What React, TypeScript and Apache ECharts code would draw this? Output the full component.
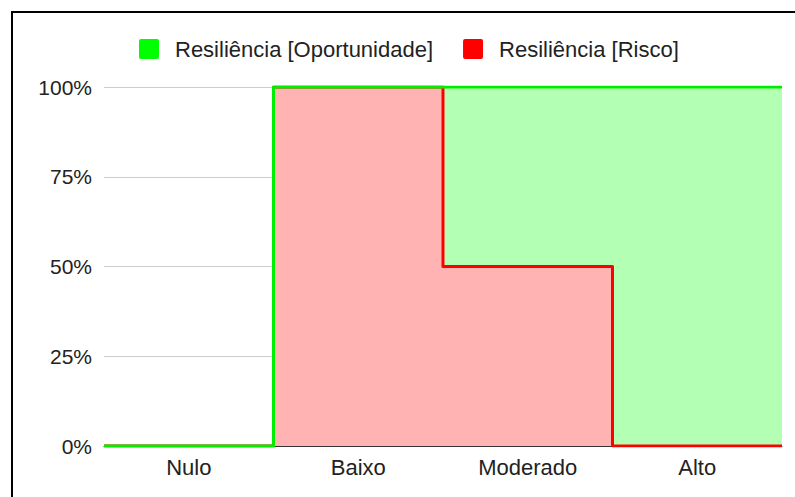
import React, { useEffect, useRef } from "react";
import * as echarts from "echarts";

const categories = ["Nulo", "Baixo", "Moderado", "Alto"];
const oportunidade = [0, 100, 100, 100];
const risco = [0, 100, 50, 0];
const seriesNames = ["Resiliência [Oportunidade]", "Resiliência [Risco]"];

const toStep = (vals: number[]) => [
  ...vals.map((v, i) => [i, v]),
  [vals.length, vals[vals.length - 1]],
];

export default function App() {
  const ref = useRef<HTMLDivElement>(null);
  useEffect(() => {
    if (!ref.current) return;
    const chart = echarts.init(ref.current, undefined, { renderer: "svg" });
    const font = "Liberation Sans, Arial, sans-serif";
    chart.setOption({
      animation: false,
      textStyle: { fontFamily: font },
      graphic: [
        {
          type: "rect",
          shape: { x: 12, y: 12, width: 820, height: 520 },
          style: { fill: "none", stroke: "#000", lineWidth: 2 },
          silent: true,
          z: 100,
        },
      ],
      legend: {
        data: seriesNames,
        left: 134,
        top: 33,
        itemWidth: 20,
        itemHeight: 20,
        itemGap: 30,
        icon: "path://M2,0 L18,0 Q20,0 20,2 L20,18 Q20,20 18,20 L2,20 Q0,20 0,18 L0,2 Q0,0 2,0 Z",
        textStyle: { fontSize: 22, color: "#222", fontFamily: font, padding: [0, 0, 0, 11] },
      },
      grid: { left: 104, right: 13, top: 87, bottom: 51, containLabel: false },
      xAxis: [
        { type: "value", min: 0, max: categories.length, show: false },
        {
          type: "category",
          data: categories,
          position: "bottom",
          boundaryGap: true,
          axisTick: { show: false },
          axisLine: { show: true, lineStyle: { color: "#333", width: 1 } },
          axisLabel: { fontSize: 22, color: "#222", margin: 10, fontFamily: font },
        },
      ],
      yAxis: {
        type: "value",
        min: 0,
        max: 100,
        interval: 25,
        axisLine: { show: false },
        axisTick: { show: false },
        splitLine: { lineStyle: { color: "#ccc", width: 1 } },
        axisLabel: { formatter: "{value}%", fontSize: 21, color: "#222", margin: 12, fontFamily: font },
      },
      series: [
        {
          name: seriesNames[0],
          type: "line",
          xAxisIndex: 0,
          step: "end",
          symbol: "none",
          data: toStep(oportunidade),
          itemStyle: { color: "#00ff00" },
          lineStyle: { width: 0, opacity: 0 },
          areaStyle: { color: "#b3ffb3", opacity: 1 },
          z: 2,
        },
        {
          name: seriesNames[1],
          type: "line",
          xAxisIndex: 0,
          step: "end",
          symbol: "none",
          data: toStep(risco),
          itemStyle: { color: "#ff0000" },
          lineStyle: { width: 3, color: "#ff0000", join: "round" },
          areaStyle: { color: "#ffb3b3", opacity: 1 },
          z: 3,
        },
        {
          name: seriesNames[0],
          type: "line",
          xAxisIndex: 0,
          step: "end",
          symbol: "none",
          data: toStep(oportunidade),
          itemStyle: { color: "#00ff00" },
          lineStyle: { width: 3, color: "#00ee00", join: "round" },
          z: 4,
        },
      ],
    });
    return () => chart.dispose();
  }, []);
  return (
    <div
      ref={ref}
      style={{ position: "fixed", left: 0, top: 0, width: 795, height: 497, background: "#fff" }}
    />
  );
}
